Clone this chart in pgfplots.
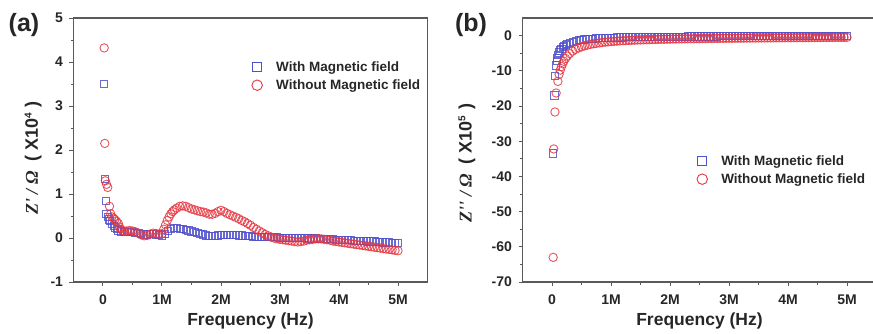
\documentclass[border=0pt]{standalone}
\usepackage{pgfplots}
\pgfplotsset{compat=1.18}
\usepackage{pgfplotstable}
\usepackage{fontspec}
\setmainfont{Liberation Sans}
\newfontfamily\serifbi[BoldItalicFont={Liberation Serif Bold Italic}]{Liberation Serif}
\definecolor{cblue}{RGB}{80,80,205}
\definecolor{cred}{RGB}{228,55,65}
\definecolor{axgray}{RGB}{90,90,90}

\pgfplotstableread{
x y
0.02 3.50
0.03 1.35
0.05 0.85
0.06 0.55
0.08 0.48
0.10 0.42
0.12 0.38
0.15 0.32
0.18 0.27
0.20 0.24
0.23 0.20
0.26 0.17
0.30 0.15
0.35 0.14
0.40 0.13
0.45 0.13
0.50 0.13
0.55 0.12
0.60 0.11
0.65 0.09
0.70 0.08
0.75 0.08
0.80 0.09
0.85 0.09
0.90 0.08
0.95 0.07
1.00 0.06
1.05 0.10
1.10 0.16
1.15 0.20
1.20 0.22
1.25 0.22
1.30 0.21
1.35 0.20
1.40 0.18
1.45 0.17
1.50 0.15
1.55 0.13
1.60 0.12
1.65 0.10
1.70 0.08
1.75 0.06
1.80 0.05
1.85 0.04
1.90 0.05
1.95 0.06
2.00 0.07
2.05 0.07
2.10 0.07
2.15 0.07
2.20 0.07
2.25 0.07
2.30 0.06
2.35 0.06
2.40 0.05
2.45 0.04
2.50 0.04
2.55 0.03
2.60 0.03
2.65 0.03
2.70 0.02
2.75 0.02
2.80 0.02
2.85 0.02
2.90 0.02
2.95 0.02
3.00 0.01
3.05 0.01
3.10 0.01
3.15 0.01
3.20 0.00
3.25 0.00
3.30 0.00
3.35 0.00
3.40 0.00
3.45 -0.01
3.50 -0.01
3.55 -0.01
3.60 -0.01
3.65 -0.02
3.70 -0.02
3.75 -0.02
3.80 -0.03
3.85 -0.03
3.90 -0.03
3.95 -0.04
4.00 -0.04
4.05 -0.04
4.10 -0.05
4.15 -0.05
4.20 -0.05
4.25 -0.06
4.30 -0.06
4.35 -0.06
4.40 -0.07
4.45 -0.07
4.50 -0.08
4.55 -0.08
4.60 -0.08
4.65 -0.09
4.70 -0.09
4.75 -0.10
4.80 -0.10
4.85 -0.10
4.90 -0.11
4.95 -0.11
5.00 -0.12
}\ablue

\pgfplotstableread{
x y
0.02 4.32
0.03 2.15
0.04 1.30
0.06 1.22
0.08 1.15
0.11 0.72
0.13 0.55
0.15 0.48
0.18 0.45
0.20 0.42
0.23 0.38
0.26 0.33
0.28 0.25
0.30 0.20
0.33 0.17
0.36 0.15
0.40 0.16
0.45 0.17
0.50 0.16
0.55 0.14
0.60 0.11
0.65 0.07
0.70 0.05
0.75 0.06
0.80 0.09
0.85 0.11
0.90 0.10
0.95 0.09
1.00 0.10
1.03 0.20
1.06 0.30
1.09 0.40
1.12 0.48
1.15 0.55
1.18 0.60
1.21 0.64
1.25 0.68
1.30 0.72
1.35 0.73
1.40 0.72
1.45 0.69
1.50 0.66
1.55 0.64
1.60 0.62
1.65 0.60
1.70 0.59
1.75 0.57
1.80 0.54
1.85 0.54
1.90 0.56
1.95 0.60
2.00 0.63
2.05 0.60
2.10 0.56
2.15 0.53
2.20 0.50
2.25 0.47
2.30 0.44
2.35 0.40
2.40 0.37
2.45 0.33
2.50 0.29
2.55 0.24
2.60 0.20
2.65 0.16
2.70 0.12
2.75 0.08
2.80 0.05
2.85 0.02
2.90 0.00
2.95 -0.02
3.00 -0.03
3.05 -0.04
3.10 -0.05
3.15 -0.06
3.20 -0.07
3.25 -0.08
3.30 -0.09
3.35 -0.08
3.40 -0.07
3.45 -0.05
3.50 -0.04
3.55 -0.03
3.60 -0.02
3.65 -0.02
3.70 -0.02
3.75 -0.03
3.80 -0.04
3.85 -0.05
3.90 -0.07
3.95 -0.08
4.00 -0.09
4.05 -0.10
4.10 -0.11
4.15 -0.12
4.20 -0.13
4.25 -0.14
4.30 -0.15
4.35 -0.16
4.40 -0.17
4.45 -0.18
4.50 -0.19
4.55 -0.20
4.60 -0.21
4.65 -0.22
4.70 -0.23
4.75 -0.24
4.80 -0.25
4.85 -0.26
4.90 -0.27
4.95 -0.28
5.00 -0.29
}\ared

\pgfplotstableread{
x y
0.02 -33.5
0.04 -17.0
0.05 -11.5
0.07 -8.5
0.08 -7.2
0.09 -6.3
0.10 -5.6
0.12 -4.8
0.14 -4.2
0.16 -3.7
0.18 -3.3
0.20 -3.0
0.23 -2.6
0.26 -2.3
0.30 -2.0
0.35 -1.7
0.40 -1.5
0.45 -1.3
0.50 -1.2
0.55 -1.1
0.60 -1.0
0.65 -0.92
0.70 -0.85
0.75 -0.80
0.80 -0.75
0.85 -0.70
0.90 -0.66
0.95 -0.63
1.00 -0.60
1.05 -0.57
1.10 -0.55
1.15 -0.52
1.20 -0.50
1.25 -0.48
1.30 -0.46
1.35 -0.45
1.40 -0.43
1.45 -0.42
1.50 -0.40
1.55 -0.39
1.60 -0.38
1.65 -0.37
1.70 -0.36
1.75 -0.35
1.80 -0.34
1.85 -0.33
1.90 -0.32
1.95 -0.31
2.00 -0.30
2.05 -0.30
2.10 -0.29
2.15 -0.28
2.20 -0.28
2.25 -0.27
2.30 -0.26
2.35 -0.26
2.40 -0.25
2.45 -0.25
2.50 -0.24
2.55 -0.24
2.60 -0.23
2.65 -0.23
2.70 -0.22
2.75 -0.22
2.80 -0.22
2.85 -0.21
2.90 -0.21
2.95 -0.20
3.00 -0.20
3.05 -0.20
3.10 -0.19
3.15 -0.19
3.20 -0.19
3.25 -0.18
3.30 -0.18
3.35 -0.18
3.40 -0.18
3.45 -0.17
3.50 -0.17
3.55 -0.17
3.60 -0.17
3.65 -0.16
3.70 -0.16
3.75 -0.16
3.80 -0.16
3.85 -0.16
3.90 -0.15
3.95 -0.15
4.00 -0.15
4.05 -0.15
4.10 -0.15
4.15 -0.14
4.20 -0.14
4.25 -0.14
4.30 -0.14
4.35 -0.14
4.40 -0.14
4.45 -0.13
4.50 -0.13
4.55 -0.13
4.60 -0.13
4.65 -0.13
4.70 -0.13
4.75 -0.12
4.80 -0.12
4.85 -0.12
4.90 -0.12
4.95 -0.12
5.00 -0.12
}\bblue

\pgfplotstableread{
x y
0.02 -63.0
0.03 -32.2
0.05 -21.7
0.07 -16.3
0.10 -13.0
0.12 -11.0
0.14 -9.8
0.16 -8.8
0.18 -8.0
0.20 -7.3
0.23 -6.5
0.26 -5.8
0.30 -5.1
0.35 -4.4
0.40 -3.9
0.45 -3.5
0.50 -3.2
0.55 -2.9
0.60 -2.7
0.65 -2.5
0.70 -2.35
0.75 -2.20
0.80 -2.07
0.85 -1.96
0.90 -1.86
0.95 -1.77
1.00 -1.70
1.05 -1.63
1.10 -1.57
1.15 -1.51
1.20 -1.46
1.25 -1.41
1.30 -1.37
1.35 -1.33
1.40 -1.29
1.45 -1.26
1.50 -1.23
1.55 -1.20
1.60 -1.17
1.65 -1.14
1.70 -1.12
1.75 -1.10
1.80 -1.07
1.85 -1.05
1.90 -1.03
1.95 -1.01
2.00 -1.00
2.05 -0.98
2.10 -0.96
2.15 -0.95
2.20 -0.93
2.25 -0.92
2.30 -0.90
2.35 -0.89
2.40 -0.88
2.45 -0.86
2.50 -0.85
2.55 -0.84
2.60 -0.83
2.65 -0.82
2.70 -0.81
2.75 -0.80
2.80 -0.79
2.85 -0.78
2.90 -0.77
2.95 -0.76
3.00 -0.75
3.05 -0.74
3.10 -0.73
3.15 -0.73
3.20 -0.72
3.25 -0.71
3.30 -0.70
3.35 -0.70
3.40 -0.69
3.45 -0.68
3.50 -0.67
3.55 -0.67
3.60 -0.66
3.65 -0.65
3.70 -0.65
3.75 -0.64
3.80 -0.63
3.85 -0.63
3.90 -0.62
3.95 -0.61
4.00 -0.61
4.05 -0.60
4.10 -0.60
4.15 -0.59
4.20 -0.58
4.25 -0.58
4.30 -0.57
4.35 -0.57
4.40 -0.56
4.45 -0.56
4.50 -0.55
4.55 -0.55
4.60 -0.54
4.65 -0.54
4.70 -0.53
4.75 -0.53
4.80 -0.52
4.85 -0.52
4.90 -0.51
4.95 -0.51
5.00 -0.50
}\bred

\pgfplotsset{
  panel/.style={
    scale only axis, width=354pt, height=264pt,
    xmin=-0.5, xmax=5.5,
    xtick={0,1,2,3,4,5},
    xticklabels={0,1M,2M,3M,4M,5M},
    minor x tick num=1, minor y tick num=1,
    xtick pos=lower, ytick pos=left, tick align=outside,
    major tick length=4pt, minor tick length=2.5pt,
    axis line style={axgray, line width=1.1pt},
    every tick/.style={axgray, line width=1pt},
    tick label style={font=\fontsize{14}{16}\selectfont\bfseries, text=black!85},
    xticklabel style={yshift=-5pt},
    yticklabel style={xshift=-3pt},
    xlabel={Frequency (Hz)},
    xlabel style={font=\fontsize{17.5}{20}\selectfont\bfseries, text=black!85, at={(axis description cs:0.5,-0.148)}, anchor=center},
    ylabel style={font=\fontsize{18}{20}\selectfont\bfseries, text=black!85, rotate=0, anchor=center},
    legend style={draw=none, fill=none, font=\fontsize{13.5}{16}\selectfont\bfseries, text=black!85, row sep=3pt, inner sep=2pt, legend cell align=left},
    legend image code/.code={\draw[only marks, mark options={scale=1.25}] plot coordinates {(8pt,0pt)};\path[draw=none] (0pt,0pt) -- (25pt,0pt);},
  },
  bser/.style={only marks, mark=square, mark size=3.6pt, color=cblue, line width=0.9pt, mark options={draw opacity=0.85}},
  rser/.style={only marks, mark=o, mark size=4.2pt, color=cred, line width=0.9pt, mark options={draw opacity=0.85}},
}

\begin{document}
\begin{tikzpicture}
\begin{axis}[panel, at={(73.5pt,51pt)}, anchor=south west,
  ymin=-1, ymax=5, ytick={-1,0,1,2,3,4,5}, yticklabels={-1,0,1,2,3,4,5},
  ylabel={{\serifbi\bfseries\itshape Z' / Ω}\ \ ( X10\textsuperscript{\fontsize{10}{10}\selectfont 4} )},
  ylabel style={at={(axis description cs:-0.114,0.47)}},
  legend style={at={(0.49,0.852)}, anchor=north west},
]
\addplot[bser] table[x=x,y=y] {\ablue};
\addlegendentry{With Magnetic field}
\addplot[rser] table[x=x,y=y] {\ared};
\addlegendentry{Without Magnetic field}
\end{axis}

\begin{axis}[panel, at={(522.5pt,51pt)}, anchor=south west,
  ymin=-70, ymax=5, ytick={-70,-60,-50,-40,-30,-20,-10,0}, yticklabels={-70,-60,-50,-40,-30,-20,-10,0},
  ylabel={{\serifbi\bfseries\itshape Z'' / Ω}\ \ ( X10\textsuperscript{\fontsize{10}{10}\selectfont 5} )},
  ylabel style={at={(axis description cs:-0.157,0.45)}},
  legend style={at={(0.479,0.496)}, anchor=north west},
]
\addplot[bser] table[x=x,y=y] {\bblue};
\addlegendentry{With Magnetic field}
\addplot[rser] table[x=x,y=y] {\bred};
\addlegendentry{Without Magnetic field}
\end{axis}

\node[font=\fontsize{25}{28}\selectfont\bfseries, text=black!85, anchor=center] at (24pt,308pt) {(a)};
\node[font=\fontsize{25}{28}\selectfont\bfseries, text=black!85, anchor=center] at (471pt,308pt) {(b)};

\pgfresetboundingbox
\useasboundingbox (0,0) rectangle (873pt,333pt);
\end{tikzpicture}
\end{document}
